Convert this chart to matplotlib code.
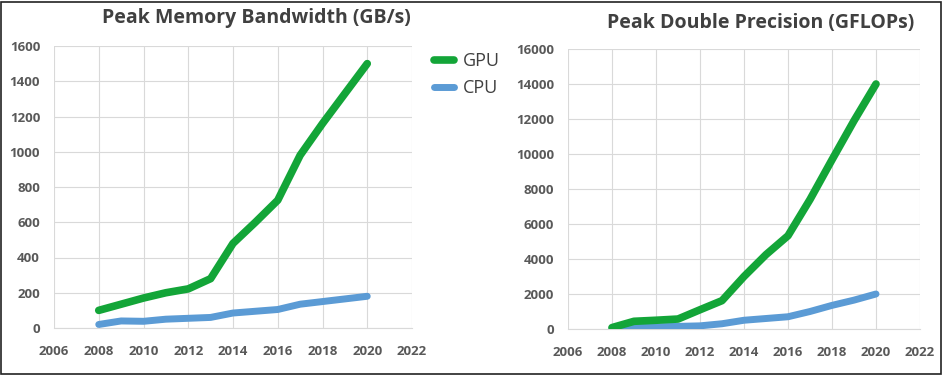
import matplotlib
matplotlib.use("Agg")
import matplotlib.pyplot as plt
from matplotlib.lines import Line2D
from matplotlib.patches import Rectangle

years = [2008, 2009, 2010, 2011, 2012, 2013, 2014, 2015, 2016, 2017, 2018, 2019, 2020]
gpu_bw = [100, 135, 170, 200, 222, 280, 480, 600, 725, 980, 1160, 1330, 1500]
cpu_bw = [20, 40, 38, 50, 55, 60, 85, 95, 105, 135, 150, 165, 180]
gpu_dp = [80, 440, 500, 570, 1100, 1620, 3000, 4250, 5330, 7400, 9670, 11900, 14000]
cpu_dp = [50, 100, 130, 150, 180, 300, 500, 600, 700, 1000, 1350, 1650, 2000]

titles = ["Peak Memory Bandwidth (GB/s)", "Peak Double Precision (GFLOPs)"]
series_names = ["GPU", "CPU"]
xticks = [2006, 2008, 2010, 2012, 2014, 2016, 2018, 2020, 2022]
yticks_bw = [0, 200, 400, 600, 800, 1000, 1200, 1400, 1600]
yticks_dp = [0, 2000, 4000, 6000, 8000, 10000, 12000, 14000, 16000]

GREEN = "#13A538"
BLUE = "#5B9BD5"
TXT = "#595959"
GRID = "#D9D9D9"

W, H = 944, 376
fig = plt.figure(figsize=(W / 100, H / 100), dpi=100)
plt.rcParams['font.family'] = ['Open Sans', 'DejaVu Sans']

def ax_at(x0, y0, x1, y1):
    return fig.add_axes([x0 / W, 1 - y1 / H, (x1 - x0) / W, (y1 - y0) / H])

ax1 = ax_at(54, 46, 412, 328)
ax2 = ax_at(568, 49, 920, 329)

for ax, g, c, yt, title, ty, tx in [
    (ax1, gpu_bw, cpu_bw, yticks_bw, titles[0], 18, 256),
    (ax2, gpu_dp, cpu_dp, yticks_dp, titles[1], 23, 761),
]:
    ax.plot(years, c, color=BLUE, lw=5, solid_capstyle="round", solid_joinstyle="round", zorder=3)
    ax.plot(years, g, color=GREEN, lw=5.5, solid_capstyle="round", solid_joinstyle="round", zorder=4)
    ax.set_xlim(xticks[0], xticks[-1])
    ax.set_ylim(yt[0], yt[-1])
    ax.set_xticks(xticks)
    ax.set_yticks(yt)
    ax.grid(True, color=GRID, lw=0.8)
    ax.set_axisbelow(True)
    for s in ax.spines.values():
        s.set_visible(False)
    ax.spines["bottom"].set_visible(True)
    ax.spines["bottom"].set_color(GRID)
    ax.tick_params(length=0, labelsize=9.5, labelcolor=TXT)
    ax.tick_params(axis="y", pad=10)
    ax.tick_params(axis="x", pad=12)
    for lab in ax.get_xticklabels() + ax.get_yticklabels():
        lab.set_fontweight("bold")
    fig.text(tx / W, 1 - ty / H, title, ha="center", va="center",
             fontsize=14, fontweight="bold", color="#404040")

handles = [Line2D([0], [0], color=GREEN, lw=5.5, solid_capstyle="round"),
           Line2D([0], [0], color=BLUE, lw=5, solid_capstyle="round")]
fig.legend(handles, series_names, loc="upper left", bbox_to_anchor=(418 / W, 1 - 36 / H),
           frameon=False, fontsize=13, handlelength=1.1, labelspacing=0.5,
           labelcolor="#404040", handletextpad=0.5)

fig.patches.append(Rectangle((1 / W, 2 / H), (W - 4) / W, (H - 4) / H, transform=fig.transFigure,
                             fill=False, edgecolor="#222222", lw=1.2))

fig.savefig("out.png", dpi=100)
